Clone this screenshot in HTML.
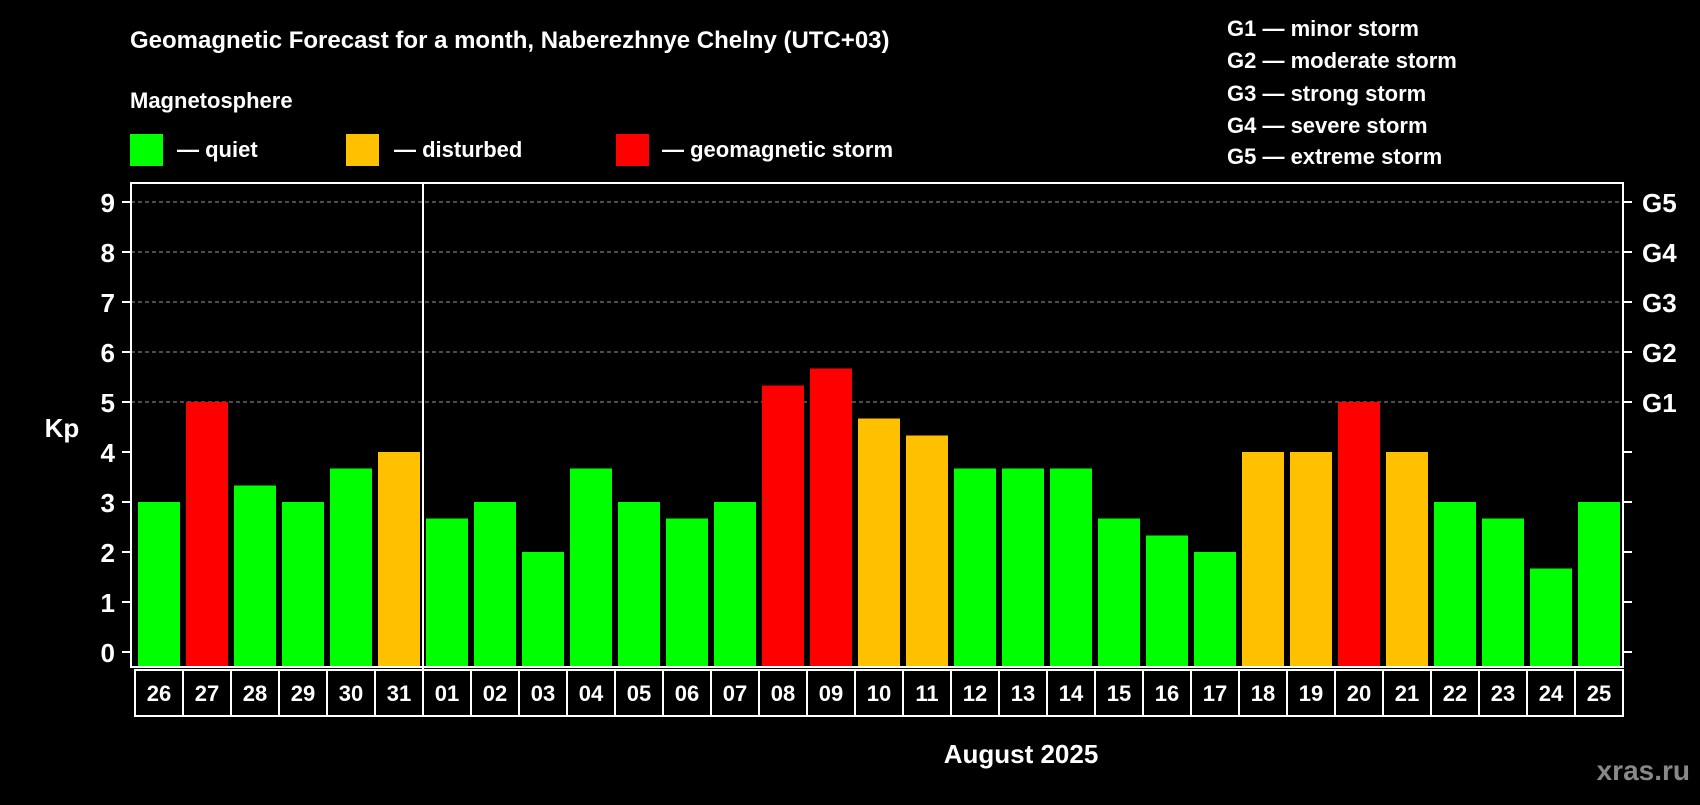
<!DOCTYPE html>
<html><head><meta charset="utf-8"><style>
body{margin:0;background:#000;width:1700px;height:800px;overflow:hidden}
svg text{font-family:"Liberation Sans",Arial,sans-serif;font-weight:bold;fill:#fff}
</style></head><body>
<svg id="c" width="1700" height="800" xmlns="http://www.w3.org/2000/svg">
<rect width="1700" height="800" fill="#000"/>
<text x="130" y="48" font-size="24">Geomagnetic Forecast for a month, Naberezhnye Chelny (UTC+03)</text>
<text x="130" y="108" font-size="22">Magnetosphere</text>
<g><rect x="130" y="134" width="33" height="32" fill="#00ff00"/><text x="177" y="157" font-size="22">— quiet</text></g>
<g><rect x="346" y="134" width="33" height="32" fill="#ffc000"/><text x="394" y="157" font-size="22">— disturbed</text></g>
<g><rect x="616" y="134" width="33" height="32" fill="#ff0000"/><text x="662" y="157" font-size="22">— geomagnetic storm</text></g>
<g font-size="22">
<text x="1227" y="36">G1 — minor storm</text>
<text x="1227" y="68">G2 — moderate storm</text>
<text x="1227" y="101">G3 — strong storm</text>
<text x="1227" y="133">G4 — severe storm</text>
<text x="1227" y="164">G5 — extreme storm</text>
</g>
<g id="plot"></g>
<text x="62" y="437" font-size="26" text-anchor="middle">Kp</text>
<text x="1021" y="763" font-size="26" text-anchor="middle">August 2025</text>
<text x="1690" y="780" font-size="28" text-anchor="end" style="fill:#888">xras.ru</text>
</svg>
<script>
const days=["26","27","28","29","30","31","01","02","03","04","05","06","07","08","09","10","11","12","13","14","15","16","17","18","19","20","21","22","23","24","25"];
const kp=[3,5,3.33,3,3.67,4,2.67,3,2,3.67,3,2.67,3,5.33,5.67,4.67,4.33,3.67,3.67,3.67,2.67,2.33,2,4,4,5,4,3,2.67,1.67,3];
const yTicks=[0,1,2,3,4,5,6,7,8,9];
const gLabels=["G1","G2","G3","G4","G5"];
const gLevels=[5,6,7,8,9];
const NS="http://www.w3.org/2000/svg";
const g=document.getElementById('plot');
const X0=131,X1=1623,Y0=652,UNIT=50,PITCH=48,BW=42,FIRST=138;
const y=v=>Y0-v*UNIT;
const x=i=>FIRST+i*PITCH;
function mk(t,a){const e=document.createElementNS(NS,t);for(const k in a)e.setAttribute(k,a[k]);g.appendChild(e);return e;}
function col(v){return v>=5?"#ff0000":(v>=4?"#ffc000":"#00ff00");}
gLevels.forEach(v=>{const l=mk('line',{x1:X0,x2:X1,y1:y(v),y2:y(v),stroke:'#999','stroke-dasharray':'4,3','stroke-width':1});

});
kp.forEach((v,i)=>{const r=mk('rect',{x:x(i),y:y(v),width:BW,height:Y0+15-y(v),fill:col(v)});

});
const box=mk('rect',{x:X0,y:183,width:X1-X0,height:667-183,fill:'none',stroke:'#fff','stroke-width':2});


const dv=mk('line',{x1:423,x2:423,y1:183,y2:716,stroke:'#fff','stroke-width':2});


yTicks.forEach(v=>{mk('line',{x1:122,x2:X0,y1:y(v),y2:y(v),stroke:'#fff','stroke-width':2});
mk('line',{x1:X1,x2:X1+9,y1:y(v),y2:y(v),stroke:'#fff','stroke-width':2});
const t=mk('text',{x:115,y:y(v)+10,'font-size':26,'text-anchor':'end'});t.textContent=v;

});
gLabels.forEach((s,i)=>{const t=mk('text',{x:1642,y:y(gLevels[i])+10,'font-size':26});t.textContent=s;

});
days.forEach((d,i)=>{const cx=135+i*PITCH;
const r=mk('rect',{x:cx,y:670,width:PITCH,height:46,fill:'none',stroke:'#fff','stroke-width':2});


const t=mk('text',{x:cx+PITCH/2,y:701,'font-size':22,'text-anchor':'middle'});t.textContent=d;

});
</script>
</body></html>
